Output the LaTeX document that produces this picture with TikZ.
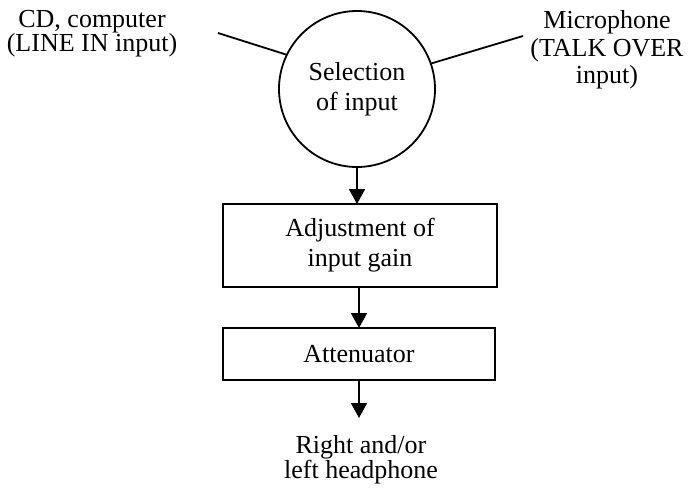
\documentclass[tikz,border=0pt]{standalone}
\usepackage{fontspec}
\setmainfont{Liberation Serif}
\usetikzlibrary{arrows.meta}
\begin{document}
\begin{tikzpicture}[x=1pt,y=-1pt,
  every node/.style={inner sep=0pt, outer sep=0pt, align=center},
  lbl/.style={font=\fontsize{26}{#1}\selectfont},
  lbl/.default=30,
  blockbox/.style={draw, line width=1.8pt, font=\fontsize{26}{30}\selectfont},
  selcircle/.style={draw, circle, line width=1.8pt, minimum size=156pt, font=\fontsize{26}{30}\selectfont},
  link/.style={line width=1.8pt},
  flow/.style={line width=1.8pt, -{Triangle[width=16pt,length=15pt]}}]
\useasboundingbox (0,0) rectangle (690,488);
\node[selcircle] (sel) at (357,89) {Selection\\of input};
\node[blockbox, minimum width=274pt, minimum height=83pt] (adj) at (360,245.5) {Adjustment of\\input gain};
\node[blockbox, minimum width=272pt, minimum height=52pt] (att) at (359,354) {Attenuator};
\node[lbl=24] (cd) at (92,34) {CD, computer\\(LINE IN input)};
\node[lbl=27.5] (mic) at (607,50) {Microphone\\(TALK OVER\\input)};
\node[lbl=25] (out) at (361,459.5) {Right and/or\\left headphone};
\coordinate (cdend) at (218,33);
\coordinate (micend) at (523,36);
\coordinate (outend) at (359,418);
\draw[link] (cdend) -- (sel.154);
\draw[link] (micend) -- (sel.19);
\draw[flow] (sel.south) -- (sel.south |- adj.north);
\draw[flow] (att.north |- adj.south) -- (att.north);
\draw[flow] (att.south) -- (outend);
\end{tikzpicture}
\end{document}
